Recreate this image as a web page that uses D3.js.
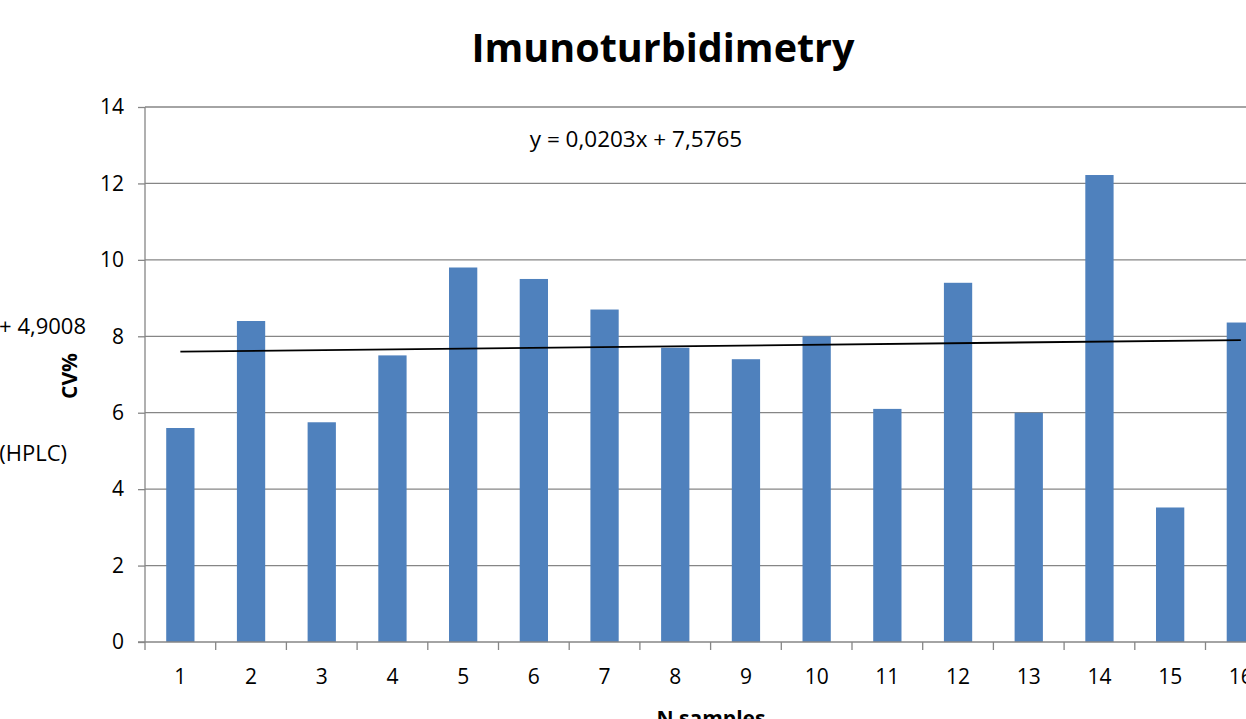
<!DOCTYPE html>
<html><head><meta charset="utf-8">
<script src="https://cdn.jsdelivr.net/npm/d3@7"></script>
<style>html,body{margin:0;padding:0;background:#fff;overflow:hidden}</style>
</head><body>
<svg id="c" width="1246" height="719"></svg>
<script>
(function(){
const categories = ["1","2","3","4","5","6","7","8","9","10","11","12","13","14","15","16"];
const cvValues = [5.6, 8.4, 5.75, 7.5, 9.8, 9.5, 8.7, 7.7, 7.4, 8.0, 6.1, 9.4, 6.0, 12.22, 3.52, 8.36];
const yTicks = [0, 2, 4, 6, 8, 10, 12, 14];
const trendCoef = [0.0203, 7.5765];
const trendLabel = "y = 0,0203x + 7,5765";
const titleText = "Imunoturbidimetry";

const svg = d3.select("#c");
const font = "'Open Sans', 'Liberation Sans', sans-serif";
const pLeft = 145, pTop = 107, pBottom = 642;
const step = 70.7;
const x = d3.scaleBand().domain(categories).range([pLeft, pLeft + step * categories.length]).paddingInner(0.6).paddingOuter(0.3);
const y = d3.scaleLinear().domain([0, 14]).range([pBottom, pTop]);

// gridlines
svg.append("g").selectAll("line").data(yTicks.filter(d => d > 0)).join("line")
  .attr("x1", pLeft).attr("x2", 1246).attr("y1", d => y(d)).attr("y2", d => y(d))
  .attr("stroke", "#868686").attr("stroke-width", 1.3);

// bars
svg.append("g").selectAll("rect").data(categories).join("rect")
  .attr("x", d => x(d)).attr("width", x.bandwidth())
  .attr("y", (d, i) => y(cvValues[i])).attr("height", (d, i) => y(0) - y(cvValues[i]))
  .attr("fill", "#4F81BD");

// y axis
const yAxis = svg.append("g").attr("transform", `translate(${pLeft},0)`)
  .call(d3.axisLeft(y).tickValues(yTicks).tickSize(7).tickPadding(14).tickFormat(d3.format("d")));
yAxis.select(".domain").attr("stroke", "#868686").attr("stroke-width", 1.3).attr("d", `M0,${pTop}V${pBottom}`);
yAxis.selectAll(".tick line").attr("stroke", "#868686").attr("stroke-width", 1.3);
yAxis.selectAll(".tick text").attr("font-family", font).attr("font-size", 21).attr("fill", "#000");

// x axis
const xg = svg.append("g").attr("transform", `translate(0,${pBottom})`);
xg.append("line").attr("x1", pLeft - 7).attr("x2", 1246).attr("y1", 0).attr("y2", 0).attr("stroke", "#868686").attr("stroke-width", 1.3);
const bounds = d3.range(categories.length + 1).map(i => pLeft + i * x.step());
xg.selectAll("line.t").data(bounds).join("line").attr("class", "t")
  .attr("x1", d => d).attr("x2", d => d).attr("y1", 0).attr("y2", 8)
  .attr("stroke", "#868686").attr("stroke-width", 1.3);
xg.selectAll("text").data(categories).join("text")
  .attr("x", d => x(d) + x.bandwidth() / 2).attr("y", 42)
  .attr("text-anchor", "middle").attr("font-family", font).attr("font-size", 21).text(d => d);

// trendline
const xc = i => x(categories[i - 1]) + x.bandwidth() / 2;
const tl = [1, categories.length].map(i => [xc(i), y(trendCoef[0] * i + trendCoef[1])]);
svg.append("path").attr("d", d3.line()(tl)).attr("stroke", "#000").attr("stroke-width", 1.8).attr("fill", "none");

svg.append("text").attr("x", 636).attr("y", 147).attr("text-anchor", "middle")
  .attr("font-family", font).attr("font-size", 22.5).text(trendLabel);

// title
svg.append("text").attr("x", 663).attr("y", 62).attr("text-anchor", "middle")
  .attr("font-family", font).attr("font-weight", "bold").attr("font-size", 39.5).text(titleText);

// axis titles
svg.append("text").attr("transform", "translate(77,376) rotate(-90)").attr("text-anchor", "middle")
  .attr("font-family", font).attr("font-weight", "bold").attr("font-size", 21).text("CV%");
svg.append("text").attr("x", 711).attr("y", 726).attr("text-anchor", "middle")
  .attr("font-family", font).attr("font-weight", "bold").attr("font-size", 21).text("N samples");

// fragments of neighbouring chart
svg.append("text").attr("x", 86).attr("y", 334).attr("text-anchor", "end")
  .attr("font-family", font).attr("font-size", 22).text("+ 4,9008");
svg.append("text").attr("x", 67).attr("y", 461).attr("text-anchor", "end")
  .attr("font-family", font).attr("font-size", 22).text("(HPLC)");
})();
</script>
</body></html>
